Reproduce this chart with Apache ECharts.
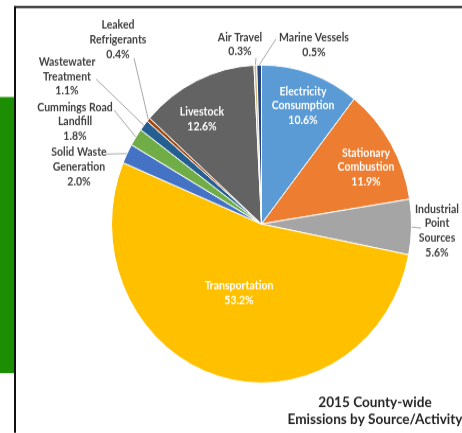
<!DOCTYPE html>
<html><head><meta charset="utf-8">
<script src="https://cdn.jsdelivr.net/npm/echarts@6/dist/echarts.min.js"></script>
<style>html,body{margin:0;padding:0;background:#fff;width:462px;height:433px}#wrap{width:462px;height:433px;position:relative}#c{position:absolute;left:0;top:0;width:462px;height:408.5px;transform:scaleY(1.06);transform-origin:0 0}</style>
</head><body><div id="wrap"><div id="c"></div></div>
<script>
const categories = ['Electricity\nConsumption','Stationary\nCombustion','Industrial\nPoint\nSources','Transportation','Solid Waste\nGeneration','Cummings Road\nLandfill','Wastewater\nTreatment','Leaked\nRefrigerants','Livestock','Air Travel','Marine Vessels'];
const values = [10.6, 11.9, 5.6, 53.2, 2.0, 1.8, 1.1, 0.4, 12.6, 0.3, 0.5];
const titleLines = ['2015 County-wide', 'Emissions by Source/Activity'];

// layout (page pixels); the chart is drawn vertically stretched by SY like the reference
const SY = 1.06;
const colors = ['#5B9BD5','#ED7D31','#A5A5A5','#FFC000','#4472C4','#70AD47','#255E91','#9E480E','#636363','#CDB77E','#264478'];
const inside = [true,true,false,true,false,false,false,false,true,false,false];
const labelPos = [[303,106],[366,167.5],[437,231],[239,293.5],[79,167],[75,122],[67,76.5],[118,40],[202,119.5],[240,44.5],[314,45]];
const lineEnd = [null,null,[421,228],null,[106,154],[114,110],[96,79],[134,58],null,[256,58],[276,39]];
const Y = y => y / SY;

const chart = echarts.init(document.getElementById('c'), null, {renderer:'canvas'});
const data = values.map((v,i)=>({
  name: categories[i], value: v,
  itemStyle: {color: colors[i]},
  label: inside[i] ? {position:'inside', color:'#ffffff'} : {position:'outside', color:'#404040'},
  labelLine: {show: !inside[i]}
}));
chart.setOption({
  animation: false,
  graphic: [
    {type:'rect', shape:{x:0,y:Y(97),width:14,height:Y(276)}, style:{fill:'#1B8E03'}},
    {type:'rect', shape:{x:14,y:Y(6),width:448,height:Y(2)}, style:{fill:'#000'}},
    {type:'rect', shape:{x:14,y:Y(6),width:2,height:Y(427)}, style:{fill:'#111'}},
    {type:'text', x:375, y:Y(410.5), style:{text:titleLines.join('\n'), align:'center', verticalAlign:'middle', fontFamily:'Lato', fontWeight:'bold', fontSize:13.6, lineHeight:Y(17), fill:'#262626'}}
  ],
  series: [{
    type: 'pie',
    center: [261.5, Y(224)],
    radius: 150,
    startAngle: 90,
    clockwise: true,
    data: data,
    itemStyle: {borderColor:'#ffffff', borderWidth:1},
    label: {
      formatter: p => p.name + '\n' + p.value.toFixed(1) + '%',
      fontFamily: 'Lato', fontWeight: 'bold', fontSize: 10.5, lineHeight: Y(14.5), align: 'center', overflow: 'none'
    },
    labelLine: {lineStyle:{color:'#A6A6A6', width:1}, smooth:false, length:10, length2:10},
    labelLayout: function (params) {
      const i = params.dataIndex;
      const r = {x: labelPos[i][0], y: Y(labelPos[i][1]), align:'center', verticalAlign:'middle'};
      if (lineEnd[i] && params.labelLinePoints) {
        const p0 = params.labelLinePoints[0];
        const e = [lineEnd[i][0], Y(lineEnd[i][1])];
        r.labelLinePoints = [p0, [(p0[0]+e[0])/2, (p0[1]+e[1])/2], e];
      }
      return r;
    }
  }]
});
</script></body></html>
